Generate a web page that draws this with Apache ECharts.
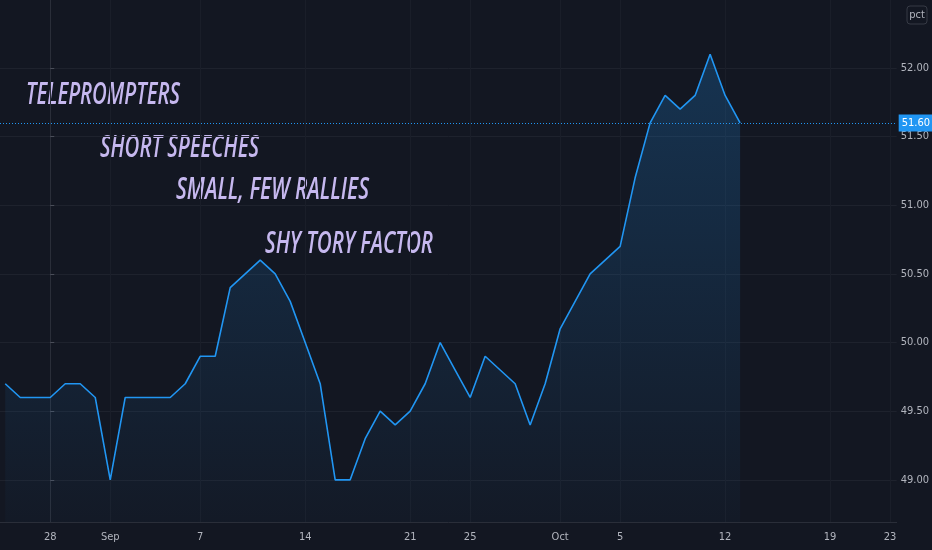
<!DOCTYPE html>
<html>
<head>
<meta charset="utf-8">
<script src="https://cdn.jsdelivr.net/npm/echarts@6/dist/echarts.min.js"></script>
<style>
html,body{margin:0;padding:0;background:#131722;}
#c{width:932px;height:550px;}
</style>
</head>
<body>
<div id="c"></div>
<script>
// ---- data ----
const startDate = '2020-08-25';
const values = [
  49.7, 49.6, 49.6, 49.6, 49.7, 49.7, 49.6,          // Aug 25 - Aug 31
  49.0, 49.6, 49.6, 49.6, 49.6, 49.7, 49.9, 49.9,    // Sep 1 - Sep 8
  50.4, 50.5, 50.6, 50.5, 50.3, 50.0, 49.7, 49.0,    // Sep 9 - Sep 16
  49.0, 49.3, 49.5, 49.4, 49.5, 49.7, 50.0, 49.8,    // Sep 17 - Sep 24
  49.6, 49.9, 49.8, 49.7, 49.4, 49.7,                // Sep 25 - Sep 30
  50.1, 50.3, 50.5, 50.6, 50.7, 51.2, 51.6, 51.8,    // Oct 1 - Oct 8
  51.7, 51.8, 52.1, 51.8, 51.6                       // Oct 9 - Oct 13
];
const tickDates  = ['2020-08-28','2020-09-01','2020-09-07','2020-09-14','2020-09-21','2020-09-25','2020-10-01','2020-10-05','2020-10-12','2020-10-19','2020-10-23'];
const tickLabels = ['28','Sep','7','14','21','25','Oct','5','12','19','23'];
const yTicks = [49.0, 49.5, 50.0, 50.5, 51.0, 51.5, 52.0];
const annotations = ['TELEPROMPTERS', 'SHORT SPEECHES', 'SMALL, FEW RALLIES', 'SHY TORY FACTOR'];
const unitLabel = 'pct';

// ---- helpers ----
const DAY = 86400000;
const refDay = Date.parse('2020-08-28T00:00:00Z');
function dayIndex(d){ return Math.round((Date.parse(d + 'T00:00:00Z') - refDay) / DAY); }
const start = dayIndex(startDate);
const seriesData = values.map((v, i) => [start + i, v]);
const tickIdx = tickDates.map(dayIndex);
const labelMap = {};
tickIdx.forEach((t, i) => { labelMap[t] = tickLabels[i]; });
const lastVal = values[values.length - 1];

// annotation layout (left x, cap-centre y, target width)
const annoLayout = [[26, 95.5, 154], [100, 148.5, 159], [176, 190, 193], [265, 244.5, 168]];
const annoFont = '"Open Sans", "DejaVu Sans", sans-serif';
const annoSize = 30;
const annoWeight = 600;
const textColor = '#c6b8ef';
const mctx = document.createElement('canvas').getContext('2d');
mctx.font = 'italic ' + annoWeight + ' ' + annoSize + 'px ' + annoFont;

const axisFont = '"DejaVu Sans Condensed", "Liberation Sans Narrow", "Roboto", sans-serif';

const chart = echarts.init(document.getElementById('c'));
chart.setOption({
  backgroundColor: '#131722',
  animation: false,
  grid: { left: 0, right: 31, top: 0, bottom: 28 },
  xAxis: {
    type: 'value',
    min: -3.35,
    max: 56.44,
    axisLine: { show: true, lineStyle: { color: '#2a2e39', width: 1 } },
    axisTick: { show: false, customValues: tickIdx },
    axisLabel: {
      customValues: tickIdx,
      formatter: v => labelMap[Math.round(v)] || '',
      color: '#b2b5be',
      fontSize: 11,
      fontFamily: axisFont,
      margin: 10
    },
    splitLine: { show: true, lineStyle: { color: '#1a1e29', width: 1 } }
  },
  yAxis: {
    type: 'value',
    position: 'right',
    min: 48.693,
    max: 52.495,
    axisLine: { show: true, lineStyle: { color: '#2a2e39', width: 1 } },
    axisTick: { show: true, length: 4, customValues: yTicks, lineStyle: { color: '#4a4e59' } },
    axisLabel: {
      customValues: yTicks,
      formatter: v => v.toFixed(2),
      color: '#b2b5be',
      fontSize: 11,
      fontFamily: axisFont,
      margin: 4
    },
    splitLine: { show: true, lineStyle: { color: '#1e222d', width: 1 } }
  },
  series: [{
    type: 'line',
    data: seriesData,
    showSymbol: false,
    symbol: 'none',
    lineStyle: { color: '#2196f3', width: 1.6 },
    areaStyle: {
      color: new echarts.graphic.LinearGradient(0, 0, 0, 1, [
        { offset: 0, color: 'rgba(33,150,243,0.32)' },
        { offset: 1, color: 'rgba(33,150,243,0.03)' }
      ]),
      origin: 'start'
    },
    markLine: {
      silent: true,
      symbol: ['none', 'none'],
      lineStyle: { color: '#2196f3', type: [1, 2], width: 1 },
      label: {
        show: true,
        position: 'end',
        distance: 2,
        formatter: lastVal.toFixed(2),
        backgroundColor: '#2196f3',
        color: '#ffffff',
        fontSize: 11,
        fontFamily: axisFont,
        padding: [3, 3, 3, 3]
      },
      data: [{ yAxis: lastVal }]
    }
  }],
  graphic: [
    {
      type: 'rect',
      shape: { x: 907, y: 6, width: 20, height: 18, r: 3 },
      style: { fill: 'transparent', stroke: '#363a45', lineWidth: 1 }
    },
    {
      type: 'text',
      x: 917, y: 15,
      style: {
        text: unitLabel, fill: '#b2b5be', fontSize: 11,
        fontFamily: axisFont,
        align: 'center', verticalAlign: 'middle'
      }
    }
  ].concat(annotations.map((t, i) => {
    const w = mctx.measureText(t).width;
    return {
      type: 'text',
      x: annoLayout[i][0], y: annoLayout[i][1],
      scaleX: annoLayout[i][2] / w,
      style: {
        text: t, fill: textColor, fontSize: annoSize, fontStyle: 'italic',
        fontWeight: annoWeight,
        fontFamily: annoFont,
        align: 'left', verticalAlign: 'middle'
      }
    };
  }))
});
</script>
</body>
</html>
